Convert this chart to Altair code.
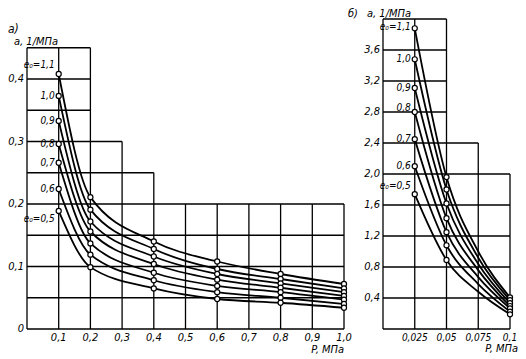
import altair as alt
import pandas as pd

# ---------------- data ----------------
E0 = [1.1, 1.0, 0.9, 0.8, 0.7, 0.6, 0.5]
E0_LABELS = ["e₀=1,1", "1,0", "0,9", "0,8", "0,7", "0,6", "e₀=0,5"]

# panel а) : P, MPa  -> a, 1/MPa
P_A = [0.1, 0.2, 0.4, 0.6, 0.8, 1.0]
A_A = [
    [0.408, 0.211, 0.140, 0.108, 0.088, 0.072],
    [0.373, 0.191, 0.128, 0.096, 0.080, 0.065],
    [0.333, 0.172, 0.116, 0.088, 0.073, 0.059],
    [0.296, 0.156, 0.104, 0.079, 0.066, 0.053],
    [0.266, 0.137, 0.090, 0.069, 0.059, 0.047],
    [0.224, 0.119, 0.078, 0.059, 0.050, 0.040],
    [0.189, 0.099, 0.065, 0.048, 0.042, 0.034],
]

# panel б)
P_B = [0.025, 0.05, 0.075, 0.1]
B_MARKED = [True, True, False, True]
A_B = [
    [3.88, 1.96, 1.00, 0.408],
    [3.48, 1.80, 0.92, 0.373],
    [3.11, 1.62, 0.84, 0.333],
    [2.80, 1.43, 0.76, 0.296],
    [2.45, 1.25, 0.67, 0.266],
    [2.10, 1.08, 0.58, 0.224],
    [1.74, 0.89, 0.48, 0.189],
]

# staircase grids: horizontal (y, x_end), vertical (x, y_top)
GRID_A_H = [(0, 1.0), (0.05, 1.0), (0.1, 1.0), (0.15, 1.0), (0.2, 1.0),
            (0.25, 0.4), (0.3, 0.3), (0.35, 0.2), (0.4, 0.2), (0.45, 0.2)]
GRID_A_V = [(0, 0.45), (0.1, 0.45), (0.2, 0.45), (0.3, 0.3), (0.4, 0.25),
            (0.5, 0.2), (0.6, 0.2), (0.7, 0.2), (0.8, 0.2), (0.9, 0.2), (1.0, 0.2)]
GRID_B_H = [(0, 0.1), (0.4, 0.1), (0.8, 0.1), (1.2, 0.1), (1.6, 0.1), (2.0, 0.1),
            (2.4, 0.075), (2.8, 0.05), (3.2, 0.05), (3.6, 0.05), (4.0, 0.05)]
GRID_B_V = [(0, 4.0), (0.025, 4.0), (0.05, 4.0), (0.075, 2.4), (0.1, 2.0)]

# tick labels
XTICKS_A = [0.1, 0.2, 0.3, 0.4, 0.5, 0.6, 0.7, 0.8, 0.9, 1.0]
XLABELS_A = ["0,1", "0,2", "0,3", "0,4", "0,5", "0,6", "0,7", "0,8", "0,9", "1,0"]
YTICKS_A = [0, 0.1, 0.2, 0.3, 0.4]
YLABELS_A = ["0", "0,1", "0,2", "0,3", "0,4"]
XTICKS_B = [0.025, 0.05, 0.075, 0.1]
XLABELS_B = ["0,025", "0,05", "0,075", "0,1"]
YTICKS_B = [0.4, 0.8, 1.2, 1.6, 2.0, 2.4, 2.8, 3.2, 3.6]
YLABELS_B = ["0,4", "0,8", "1,2", "1,6", "2,0", "2,4", "2,8", "3,2", "3,6"]

FONT = "Liberation Sans Narrow, DejaVu Sans Condensed, sans-serif"
H = 310


def grid_df(hs, vs):
    rows = [dict(x=0, x2=xe, y=y, y2=y) for y, xe in hs]
    rows += [dict(x=x, x2=x, y=0, y2=yt) for x, yt in vs]
    return pd.DataFrame(rows)


def curves_df(ps, vals, marked=None):
    rows = []
    for e, lab, row in zip(E0, E0_LABELS, vals):
        for i, (p, a) in enumerate(zip(ps, row)):
            rows.append(dict(e0=e, label=lab, p=p, a=a,
                             m=True if marked is None else marked[i]))
    return pd.DataFrame(rows)


def txt(**kw):
    base = dict(font=FONT, fontStyle="italic", color="black", fontSize=11)
    base.update(kw)
    return base


def panel(ps, vals, marked, hs, vs, xdom, ydom, width, xticks, xlabels,
          yticks, ylabels, xfs, label_dy, label_dx, texts):
    xs = alt.Scale(domain=xdom, nice=False, zero=False)
    ys = alt.Scale(domain=ydom, nice=False, zero=False)
    X = lambda f: alt.X(f, scale=xs, axis=None)
    Y = lambda f: alt.Y(f, scale=ys, axis=None)
    g = grid_df(hs, vs)
    grid = alt.Chart(g).mark_rule(color="black", strokeWidth=1.3).encode(
        x=X("x:Q"), x2="x2:Q", y=Y("y:Q"), y2="y2:Q")
    d = curves_df(ps, vals, marked)
    lines = alt.Chart(d).mark_line(color="black", strokeWidth=1.8,
                                   interpolate="monotone").encode(
        x=X("p:Q"), y=Y("a:Q"), detail="e0:N", order="p:Q")
    pts = alt.Chart(d).transform_filter("datum.m").mark_point(
        shape="circle", filled=True, fill="white", stroke="black",
        strokeWidth=1.2, size=26, opacity=1).encode(x=X("p:Q"), y=Y("a:Q"))
    xl = alt.Chart(pd.DataFrame({"v": xticks, "t": xlabels})).mark_text(
        **txt(align="center", baseline="middle", fontSize=xfs)).encode(
        x=X("v:Q"), y=alt.value(H + 9), text="t:N")
    yl = alt.Chart(pd.DataFrame({"v": yticks, "t": ylabels})).mark_text(
        **txt(align="right", baseline="middle")).encode(
        x=alt.value(-3), y=Y("v:Q"), text="t:N")
    layers = [grid, lines, pts, xl, yl]
    first = d[d.p == ps[0]]
    for i, lab in enumerate(E0_LABELS):
        layers.append(
            alt.Chart(first[first.label == lab]).mark_text(
                **txt(align="right", baseline="middle", dx=label_dx,
                      dy=label_dy[i], fontSize=10)).encode(
                x=X("p:Q"), y=Y("a:Q"), text="label:N"))
    for t, tx, ty, al, fs in texts:
        layers.append(
            alt.Chart(pd.DataFrame({"t": [t]})).mark_text(
                **txt(align=al, baseline="alphabetic", fontSize=fs)).encode(
                x=alt.value(tx), y=alt.value(ty), text="t:N"))
    return alt.layer(*layers).properties(width=width, height=H)


left = panel(P_A, A_A, None, GRID_A_H, GRID_A_V, [0, 1.0], [0, 0.496], 317,
             XTICKS_A, XLABELS_A, YTICKS_A, YLABELS_A, 11,
             [-9, 0, 0, 0, 0, 0, 8], -4,
             [("а)", -19, 14, "left", 12), ("a, 1/МПа", -13, 26, "left", 11),
              ("P, МПа", 317, H + 24, "right", 11)])

right = panel(P_B, A_B, B_MARKED, GRID_B_H, GRID_B_V, [0, 0.1], [0, 4.0], 127,
              XTICKS_B, XLABELS_B, YTICKS_B, YLABELS_B, 10,
              [-1, 0, 0, -4, 0, 0, -8], -4,
              [("б)", -35, -2, "left", 11), ("a, 1/МПа", -16, -2, "left", 11),
               ("P, МПа", 135, H + 23, "right", 11)])

chart = alt.hconcat(left, right, spacing=39, bounds="flush").properties(
    padding=0
).configure_view(stroke=None)

chart.save("out.html", embed_options={"renderer": "svg", "actions": False})
